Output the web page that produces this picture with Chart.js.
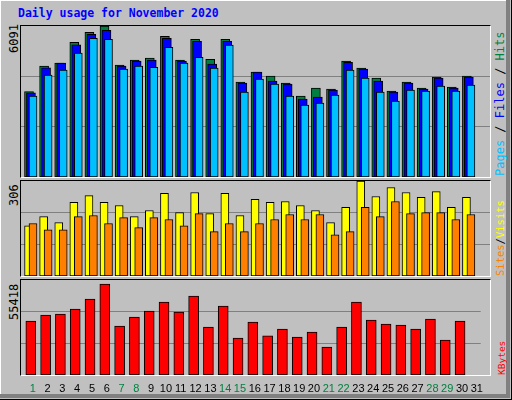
<!DOCTYPE html>
<html><head><meta charset="utf-8">
<script src="https://cdn.jsdelivr.net/npm/chart.js@4/dist/chart.umd.min.js"></script>
<style>
html,body{margin:0;padding:0;}
body{width:512px;height:400px;background:#C0C0C0;position:relative;overflow:hidden;font-family:"DejaVu Sans Mono",monospace;}
#frame{position:absolute;left:0;top:0;width:506px;height:394px;border-right:4px solid #808080;border-bottom:4px solid #808080;box-shadow:inset 1px 1px 0 #fff;}
#outer{position:absolute;left:0;top:0;width:511px;height:399px;border-right:1px solid #000;border-bottom:1px solid #000;}
.panel{position:absolute;border-top:1px solid #000;border-left:1px solid #000;border-right:1px solid #fff;border-bottom:1px solid #fff;}
.cv{position:absolute;}
#title{position:absolute;left:18px;top:6px;color:#0000FF;font-weight:bold;font-size:11.5px;}
.rot{position:absolute;transform-origin:left top;transform:rotate(-90deg);white-space:nowrap;font-size:12px;line-height:13px;}
</style></head><body>
<div id="outer"></div><div id="frame"></div>
<div id="title">Daily usage for November 2020</div>
<div class="panel" style="left:20px;top:25px;width:469px;height:151px"></div>
<div class="panel" style="left:20px;top:180px;width:469px;height:95px"></div>
<div class="panel" style="left:20px;top:279px;width:469px;height:95px"></div>
<div class="cv" style="left:21px;top:26px;width:469px;height:151px"><canvas id="c1"></canvas></div>
<div class="cv" style="left:21px;top:181px;width:469px;height:95px"><canvas id="c2"></canvas></div>
<div class="cv" style="left:21px;top:280px;width:469px;height:117px"><canvas id="c3"></canvas></div>
<div class="rot" style="left:8px;top:53px;color:#000">6091</div>
<div class="rot" style="left:8px;top:206px;color:#000">306</div>
<div class="rot" style="left:8px;top:320px;color:#000">55418</div>
<div class="rot" style="left:494px;top:176px"><span style="color:#00C0FF">Pages</span> / <span style="color:#0000FF">Files</span> / <span style="color:#008040">Hits</span></div>
<div class="rot" style="left:494px;top:276px;font-size:10.5px"><span style="color:#FF8000">Sites</span>/<span style="color:#FFFF00">Visits</span></div>
<div class="rot" style="left:495px;top:375px;font-size:9.5px"><span style="color:#FF0000">KBytes</span></div>
<script>
const days = Array.from({length:31},(_,i)=>i+1);
const weekendDays = [1,7,8,14,15,21,22,28,29];
const maxHits = 6091, maxVisits = 306, maxKBytes = 55418;
const hits  = [3441,4471,4593,5433,5835,6091,4513,4714,4794,5677,4714,5555,4751,5555,3831,4233,4069,3789,3265,3588,3545,4672,4392,3990,3466,3831,3588,4032,3630,4069,0];
const files = [3399,4404,4593,5330,5756,5914,4471,4672,4714,5598,4672,5476,4550,5476,3789,4233,3868,3746,3143,3228,3508,4629,4349,3868,3429,3789,3545,3990,3588,4032,0];
const pages = [3265,4111,4312,4995,5598,5555,4349,4471,4428,5232,4593,4830,4392,5317,3429,3947,3746,3265,2905,2985,3307,4312,3990,3429,3064,3508,3466,3667,3466,3709,0];
const visits = [162,191,172,237,259,237,227,191,211,266,204,269,201,266,195,247,237,240,227,211,172,221,306,256,285,269,253,272,221,253,0];
const sites  = [169,149,149,191,195,169,188,156,188,182,162,201,143,169,143,169,182,198,182,198,133,143,221,191,240,201,204,204,182,198,0];
const kbytes = [31477,35024,35578,38516,44334,53090,28596,33860,37352,42561,36742,46108,27986,40233,21558,30923,22777,26822,22167,25104,16348,27986,42561,32087,29759,29150,26822,32641,20394,31477,0];

const pts = arr => arr.map((v,i)=>({x:days[i],y:v}));
function xAxis(min){return {type:'linear',min:min,max:min+31.06,display:false,offset:false};}
function yAxis(max){return {min:0,max:max,border:{display:false},
  grid:{color:'#808080',drawTicks:false,lineWidth:1},
  ticks:{display:false},
  afterBuildTicks:a=>{a.ticks=[{value:max/3},{value:2*max/3}];},
  afterFit:a=>{a.width=0;}};}
function ds(data,color,axis,w){return {data:pts(data),backgroundColor:color,borderColor:'#000',borderWidth:1,barThickness:w,grouped:false,xAxisID:axis,yAxisID:'y',borderSkipped:false};}
const base = {responsive:true,maintainAspectRatio:false,animation:false,
  plugins:{legend:{display:false},tooltip:{enabled:false}},layout:{padding:0}};

new Chart(document.getElementById('c1'),{type:'bar',
  data:{datasets:[ds(pages,'#00C0FF','xp',8),ds(files,'#0000FF','xf',9),ds(hits,'#008040','xh',9)]},
  options:{...base,scales:{xh:xAxis(0.47),xf:xAxis(0.34),xp:xAxis(0.205),y:yAxis(maxHits)}}});
new Chart(document.getElementById('c2'),{type:'bar',
  data:{datasets:[ds(sites,'#FF8000','xs',8),ds(visits,'#FFFF00','xv',8)]},
  options:{...base,scales:{xv:xAxis(0.5),xs:xAxis(0.205),y:yAxis(maxVisits)}}});
new Chart(document.getElementById('c3'),{type:'bar',
  data:{datasets:[ds(kbytes,'#FF0000','xk',10)]},
  options:{...base,scales:{xk:xAxis(0.337),
    xl:{type:'linear',min:0.205,max:31.265,offset:false,position:'bottom',border:{display:false},grid:{display:false,drawTicks:false},
      afterBuildTicks:a=>{a.ticks=days.map(d=>({value:d}));},
      afterFit:a=>{a.height=22;},
      ticks:{autoSkip:false,maxRotation:0,padding:7,font:{family:'Liberation Sans',size:11},
        color:c=>weekendDays.includes(c.tick.value)?'#008040':'#000'}},
    y:yAxis(maxKBytes)}}});
</script>
</body></html>
